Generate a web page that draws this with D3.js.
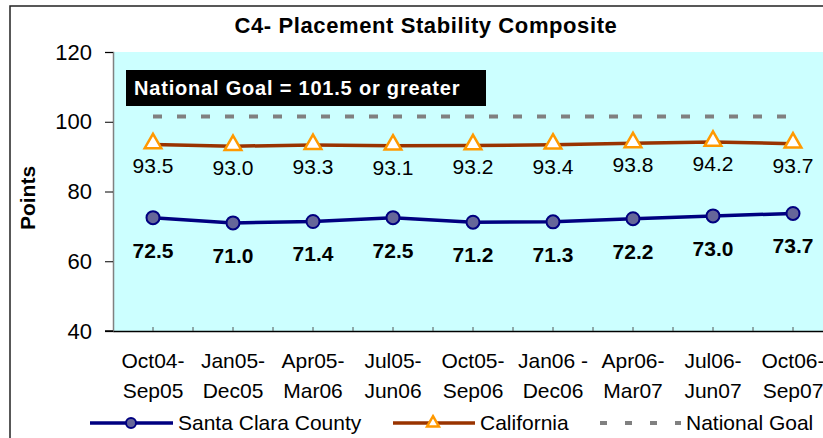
<!DOCTYPE html>
<html>
<head>
<meta charset="utf-8">
<script src="https://cdn.jsdelivr.net/npm/d3@7"></script>
<style>
  body { margin: 0; background: #fff; }
  text { font-family: Arial, "Liberation Sans", sans-serif; }
</style>
</head>
<body>
<div id="app"></div>
<script>
const periods = [
  ["Oct04-", "Sep05"], ["Jan05-", "Dec05"], ["Apr05-", "Mar06"],
  ["Jul05-", "Jun06"], ["Oct05-", "Sep06"], ["Jan06 -", "Dec06"],
  ["Apr06-", "Mar07"], ["Jul06-", "Jun07"], ["Oct06-", "Sep07"]
];
const santaClara = [72.5, 71.0, 71.4, 72.5, 71.2, 71.3, 72.2, 73.0, 73.7];
const california = [93.5, 93.0, 93.3, 93.1, 93.2, 93.4, 93.8, 94.2, 93.7];
const nationalGoal = 101.5;
const yTicks = [40, 60, 80, 100, 120];

const width = 823, height = 438;
const keys = periods.map((p) => p.join(""));

const svg = d3
  .select("#app")
  .append("svg")
  .attr("width", width)
  .attr("height", height);

// outer frame
svg.append("rect")
  .attr("x", 10).attr("y", 6)
  .attr("width", 900).attr("height", 500)
  .attr("fill", "#fff")
  .attr("stroke", "#222")
  .attr("stroke-width", 1.5);

const x = d3.scaleBand().domain(keys).range([113, 833]);
const y = d3.scaleLinear().domain([40, 120]).range([331, 52]);
const cx = (i) => x(keys[i]) + x.bandwidth() / 2;

// plot background
svg.append("rect")
  .attr("x", 113).attr("y", y(120))
  .attr("width", 720).attr("height", y(40) - y(120))
  .attr("fill", "#CCFFFF");

// title
svg.append("text")
  .attr("x", 426).attr("y", 33)
  .attr("text-anchor", "middle")
  .attr("font-size", 22).attr("font-weight", "bold")
  .attr("letter-spacing", 0.6)
  .text("C4- Placement Stability Composite");

// y axis
const yAxis = svg.append("g")
  .attr("transform", "translate(113,0)")
  .call(d3.axisLeft(y).tickValues(yTicks).tickSize(8).tickPadding(13));
yAxis.select(".domain").attr("stroke", "#808080").attr("stroke-width", 1.5);
yAxis.selectAll(".tick line").attr("stroke", "#000");
yAxis.selectAll(".tick text")
  .attr("font-size", 22)
  .attr("font-family", "Arial, 'Liberation Sans', sans-serif")
  .attr("fill", "#000");

svg.append("text")
  .attr("transform", "translate(35,198) rotate(-90)")
  .attr("text-anchor", "middle")
  .attr("font-size", 21).attr("font-weight", "bold")
  .text("Points");

// x axis
const xAxis = svg.append("g")
  .attr("transform", `translate(0,${y(40)})`)
  .call(d3.axisBottom(x).tickSizeInner(-4).tickSizeOuter(0).tickFormat(""));
xAxis.select(".domain").attr("stroke", "#000").attr("stroke-width", 1.5);
xAxis.selectAll(".tick line").attr("stroke", "#555");
xAxis.selectAll(".bound")
  .data(keys.slice(1))
  .enter()
  .append("line")
  .attr("class", "bound")
  .attr("x1", (d) => x(d)).attr("x2", (d) => x(d))
  .attr("y1", 0).attr("y2", -4)
  .attr("stroke", "#555");
svg.append("line")
  .attr("x1", 105).attr("x2", 113)
  .attr("y1", y(40)).attr("y2", y(40))
  .attr("stroke", "#000").attr("stroke-width", 1.5);

const xLabels = svg.append("g")
  .selectAll("text")
  .data(periods)
  .enter()
  .append("text")
  .attr("text-anchor", "middle")
  .attr("font-size", 21);
xLabels.append("tspan")
  .attr("x", (d, i) => cx(i)).attr("y", 368)
  .text((d) => d[0]);
xLabels.append("tspan")
  .attr("x", (d, i) => cx(i)).attr("y", 398)
  .text((d) => d[1]);

// national goal box
svg.append("rect")
  .attr("x", 126).attr("y", 70)
  .attr("width", 360).attr("height", 36)
  .attr("fill", "#000");
svg.append("text")
  .attr("x", 134).attr("y", 95)
  .attr("fill", "#fff")
  .attr("font-size", 20).attr("font-weight", "bold")
  .attr("letter-spacing", 0.8)
  .text("National Goal = " + nationalGoal + " or greater");

// national goal line
svg.append("line")
  .attr("x1", cx(0)).attr("x2", cx(keys.length - 1) - 4)
  .attr("y1", y(nationalGoal)).attr("y2", y(nationalGoal))
  .attr("stroke", "#808080")
  .attr("stroke-width", 4)
  .attr("stroke-dasharray", "9,15");

const line = d3.line().x((d, i) => cx(i)).y((d) => y(d));
const tri = d3.symbol().type(d3.symbolTriangle);

// california
svg.append("path")
  .datum(california)
  .attr("d", line)
  .attr("fill", "none")
  .attr("stroke", "#993300")
  .attr("stroke-width", 3.5);
svg.selectAll(".ca")
  .data(california)
  .enter()
  .append("path")
  .attr("class", "ca")
  .attr("d", tri.size(120))
  .attr("transform", (d, i) => `translate(${cx(i)},${y(d) - 1})`)
  .attr("fill", "#fff")
  .attr("stroke", "#FF9900")
  .attr("stroke-width", 2.5);
svg.selectAll(".caLabel")
  .data(california)
  .enter()
  .append("text")
  .attr("class", "caLabel")
  .attr("x", (d, i) => cx(i))
  .attr("y", (d) => y(d) + 29)
  .attr("text-anchor", "middle")
  .attr("font-size", 21)
  .text((d) => d.toFixed(1));

// santa clara
svg.append("path")
  .datum(santaClara)
  .attr("d", line)
  .attr("fill", "none")
  .attr("stroke", "#000080")
  .attr("stroke-width", 3.5);
svg.selectAll(".sc")
  .data(santaClara)
  .enter()
  .append("circle")
  .attr("class", "sc")
  .attr("cx", (d, i) => cx(i))
  .attr("cy", (d) => y(d))
  .attr("r", 6.5)
  .attr("fill", "#666699")
  .attr("stroke", "#000080")
  .attr("stroke-width", 2);
svg.selectAll(".scLabel")
  .data(santaClara)
  .enter()
  .append("text")
  .attr("class", "scLabel")
  .attr("x", (d, i) => cx(i))
  .attr("y", (d) => y(d) + 40)
  .attr("text-anchor", "middle")
  .attr("font-size", 21).attr("font-weight", "bold")
  .text((d) => d.toFixed(1));

// legend
const ly = 423;
const legend = svg.append("g");
legend.append("line")
  .attr("x1", 90).attr("x2", 173).attr("y1", ly).attr("y2", ly)
  .attr("stroke", "#000080").attr("stroke-width", 3.5);
legend.append("circle")
  .attr("cx", 131).attr("cy", ly).attr("r", 5)
  .attr("fill", "#666699").attr("stroke", "#000080").attr("stroke-width", 2);
legend.append("text")
  .attr("x", 178).attr("y", ly + 7)
  .attr("font-size", 21)
  .text("Santa Clara County");

legend.append("line")
  .attr("x1", 393).attr("x2", 475).attr("y1", ly).attr("y2", ly)
  .attr("stroke", "#993300").attr("stroke-width", 3.5);
legend.append("path")
  .attr("d", d3.symbol().type(d3.symbolTriangle).size(60)())
  .attr("transform", `translate(433,${ly})`)
  .attr("fill", "#fff").attr("stroke", "#FF9900").attr("stroke-width", 2.5);
legend.append("text")
  .attr("x", 480).attr("y", ly + 7)
  .attr("font-size", 21)
  .text("California");

legend.append("line")
  .attr("x1", 600).attr("x2", 681).attr("y1", ly).attr("y2", ly)
  .attr("stroke", "#808080").attr("stroke-width", 4)
  .attr("stroke-dasharray", "7,18");
legend.append("text")
  .attr("x", 686).attr("y", ly + 7)
  .attr("font-size", 21)
  .text("National Goal");
</script>
</body>
</html>
